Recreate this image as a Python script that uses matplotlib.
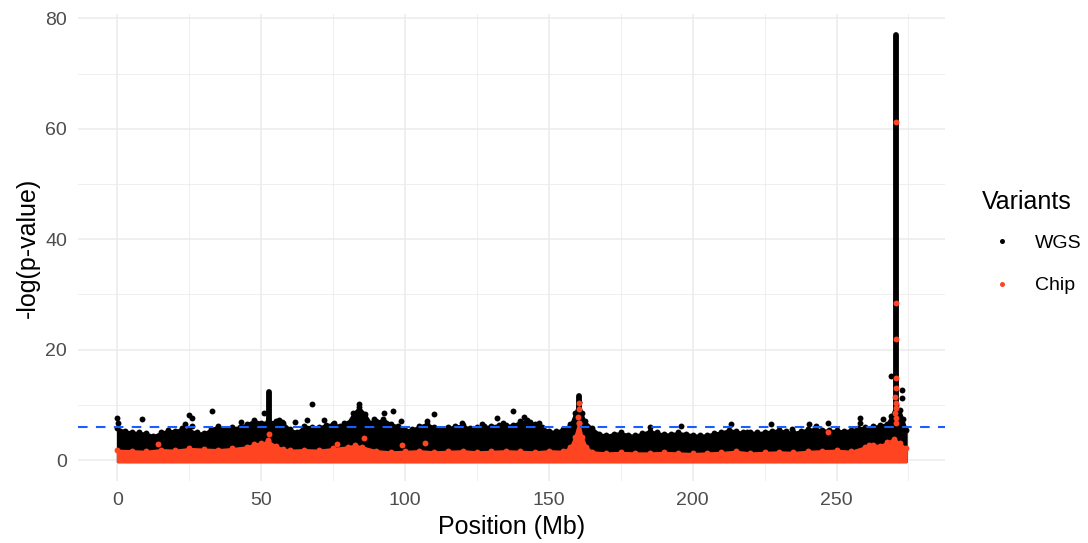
import numpy as np
import matplotlib
matplotlib.use('Agg')
import matplotlib.pyplot as plt
from matplotlib.lines import Line2D

plt.rcParams['font.family'] = ['Liberation Sans', 'DejaVu Sans']

# dense WGS band: upper edge (Mb, -log p)
wgs_env_x = [0, 2.5, 5, 7.5, 10, 12.5, 15, 17.5, 20, 22.5, 25, 27.5, 30, 32.5, 35,
             37.5, 40, 42.5, 45, 47.5, 50, 52.5, 55, 57.5, 60, 62.5, 65, 67.5, 70,
             72.5, 75, 77.5, 80, 82, 84, 86, 88, 90, 92.5, 95, 97.5, 100, 102.5,
             105, 107.5, 110, 112.5, 115, 117.5, 120, 122.5, 125, 127.5, 130,
             132.5, 135, 137.5, 140, 142.5, 145, 147.5, 150, 152.5, 155, 157.5,
             159, 160.4, 161.5, 162.5, 165, 167.5, 170, 172.5, 175, 177.5, 180,
             182.5, 185, 187.5, 190, 192.5, 195, 197.5, 200, 202.5, 205, 207.5,
             210, 212.5, 215, 217.5, 220, 222.5, 225, 227.5, 230, 232.5, 235,
             237.5, 240, 242.5, 245, 247.5, 250, 252.5, 255, 257.5, 260, 262.5,
             265, 267.5, 269, 270.5, 272, 273, 274.2]
wgs_env_top = [5.8, 5.3, 5.1, 5.0, 4.9, 4.4, 5.0, 5.4, 5.3, 5.8, 5.5, 5.0, 4.9, 5.6, 6.2,
               5.6, 5.9, 6.0, 6.6, 7.2, 6.8, 7.0, 7.0, 6.8, 5.6, 5.1, 6.2, 6.0, 6.0,
               6.4, 6.6, 6.2, 6.8, 8.5, 9.6, 8.4, 6.8, 7.0, 7.4, 6.6, 6.2, 5.5, 5.6,
               6.2, 6.6, 6.0, 5.7, 5.9, 6.2, 6.3, 5.8, 6.0, 6.1, 6.2,
               6.4, 6.3, 6.4, 7.0, 7.2, 6.6, 6.0, 5.3, 5.2, 5.7, 6.5,
               8.5, 10.5, 8.5, 7.0, 5.8, 4.8, 4.5, 4.8, 5.0, 4.6, 4.5,
               4.9, 5.3, 5.0, 4.7, 4.8, 5.0, 4.8, 4.6, 4.5, 4.6, 4.9,
               5.1, 5.5, 5.3, 5.0, 5.1, 5.0, 5.1, 5.3, 5.5, 5.2, 5.0,
               5.3, 5.6, 5.7, 5.5, 5.4, 5.4, 5.3, 5.5, 5.8, 6.0, 6.1,
               6.3, 6.6, 8.0, 10.0, 9.0, 7.5, 5.5]

# dense Chip band: upper edge
chip_env_x = [0, 5, 10, 15, 20, 25, 30, 35, 40, 45, 47.5, 50, 52.5, 55, 57.5, 60, 65,
              70, 75, 80, 82.5, 85, 90, 95, 100, 105, 110, 115, 120, 125, 130, 135,
              140, 145, 150, 155, 157.5, 159, 160.4, 161.5, 163, 165, 170, 175, 180,
              185, 190, 195, 200, 205, 210, 215, 220, 225, 230, 235, 240, 245, 250,
              255, 260, 262.5, 265, 267.5, 270, 272, 274.2]
chip_env_top = [1.8, 1.7, 1.6, 1.9, 1.8, 2.1, 2.0, 1.9, 2.1, 2.4, 2.9, 3.1, 3.4, 2.6, 2.0, 1.8, 1.9,
                1.8, 2.1, 2.4, 2.7, 2.4, 1.7, 1.5, 1.6, 1.7, 1.5, 1.6, 1.7, 1.5, 1.6, 1.7,
                1.6, 1.5, 1.7, 1.6, 2.4, 4.2, 6.8, 4.2, 2.4, 1.5, 1.3, 1.4, 1.3,
                1.3, 1.4, 1.3, 1.2, 1.3, 1.4, 1.6, 1.3, 1.4, 1.5, 1.4, 1.6, 1.7, 1.8,
                1.6, 2.4, 2.8, 2.6, 3.2, 3.9, 3.0, 2.2]

# narrow towers of stacked WGS points
tower_x = [52.8, 160.4, 270.5]
tower_top = [12.3, 11.6, 77.0]

# isolated WGS points above the band
wgs_x = [0.0, 0.1, 8.6, 23.6, 24.8, 26.0, 26.0, 32.9, 42.8, 50.9, 56.1, 57.3, 61.9,
         66.0, 67.7, 71.7, 75.2, 78.7, 83.9, 89.1, 92.8, 95.8, 98.7, 107.5, 110.1,
         119.7, 126.8, 132.0, 134.1, 137.6, 141.3, 143.6, 146.5, 185.3, 195.8,
         213.3, 219.0, 227.2, 230.0, 234.6, 240.4, 243.0, 247.2, 258.3, 258.3,
         266.0, 268.8, 272.7, 272.6]
wgs_y = [7.7, 6.7, 7.4, 6.6, 8.2, 7.7, 6.2, 8.9, 6.9, 8.5, 7.2, 6.9, 6.9,
         7.2, 10.1, 7.2, 6.8, 6.7, 10.1, 7.4, 8.6, 8.9, 7.1, 7.1, 8.3,
         6.8, 6.5, 7.7, 6.7, 8.9, 7.8, 6.9, 6.8, 6.0, 6.2,
         6.6, 5.1, 6.5, 5.4, 5.7, 6.5, 6.2, 6.8, 7.6, 6.7,
         7.4, 15.2, 12.7, 11.2]

# isolated Chip points
chip_x = [14.0, 52.6, 52.4, 76.4, 85.6, 99.0, 106.9, 160.4, 160.3, 160.2, 160.4,
          246.9, 261.3, 270.5, 270.5, 270.5, 270.6, 270.5, 270.4, 270.5, 270.6,
          270.4, 270.6, 270.5]
chip_y = [2.9, 4.7, 3.6, 2.9, 4.0, 2.7, 3.0, 10.3, 9.2, 7.8, 6.8,
          5.1, 2.7, 61.3, 28.5, 21.9, 14.9, 13.0, 11.5, 10.3, 9.4,
          8.5, 6.8, 7.6]

threshold = 6.0

BLACK = '#000000'
RED = '#FF4422'
GRID = '#EBEBEB'

fig = plt.figure(figsize=(10.88, 5.43), dpi=100)
ax = fig.add_axes([78 / 1088, 1 - 481.3 / 543, 867 / 1088, 467.6 / 543])

for v in [0, 50, 100, 150, 200, 250]:
    ax.axvline(v, color=GRID, lw=1.1, zorder=0)
for v in [25, 75, 125, 175, 225, 275]:
    ax.axvline(v, color=GRID, lw=0.55, zorder=0)
for v in [0, 20, 40, 60, 80]:
    ax.axhline(v, color=GRID, lw=1.1, zorder=0)
for v in [10, 30, 50, 70]:
    ax.axhline(v, color=GRID, lw=0.55, zorder=0)

pt = 18

# WGS
ax.fill_between(wgs_env_x, -0.3, wgs_env_top, color=BLACK, lw=1.5,
                joinstyle='round', zorder=2)
ax.scatter(wgs_env_x, wgs_env_top, s=pt, color=BLACK, lw=0, zorder=2)
tw = ax.vlines(tower_x, 0, tower_top, color=BLACK, lw=4.2, zorder=2)
tw.set_capstyle('round')
ax.scatter(wgs_x, wgs_y, s=pt, color=BLACK, lw=0, zorder=2)

# Chip
ax.fill_between(chip_env_x, -0.3, chip_env_top, color=RED, lw=1.5,
                joinstyle='round', zorder=3)
ax.scatter(chip_env_x, chip_env_top, s=pt, color=RED, lw=0, zorder=3)
ax.scatter(chip_x, chip_y, s=pt, color=RED, lw=0, zorder=3)

ax.axhline(threshold, color='#1A5EFF', lw=1.5, dashes=(4.6, 4.0), zorder=4)

ax.set_xlim(-13.7, 287.7)
ax.set_ylim(-3.85, 80.85)
ax.set_xticks([0, 50, 100, 150, 200, 250])
ax.set_yticks([0, 20, 40, 60, 80])
ax.tick_params(length=0, pad=8, labelsize=14, labelcolor='#4D4D4D')
for s in ax.spines.values():
    s.set_visible(False)
ax.set_xlabel('Position (Mb)', fontsize=18, labelpad=4)
ax.set_ylabel('-log(p-value)', fontsize=18, labelpad=4)

# legend: title as text, entries as a legend
fig.text(982 / 1088, 1 - 202 / 543, 'Variants', fontsize=18, ha='left', va='center')
handles = [Line2D([], [], ls='', marker='o', ms=3.6, color=BLACK, mec='none'),
           Line2D([], [], ls='', marker='o', ms=3.6, color=RED, mec='none')]
leg = fig.legend(handles, ['WGS', 'Chip'], loc='upper left',
                 bbox_to_anchor=(983 / 1088, 1 - 234 / 543), frameon=False,
                 fontsize=14, labelspacing=1.3, borderpad=0,
                 handletextpad=0.65, handlelength=2.0, borderaxespad=0)

fig.savefig('out.png', dpi=100)
